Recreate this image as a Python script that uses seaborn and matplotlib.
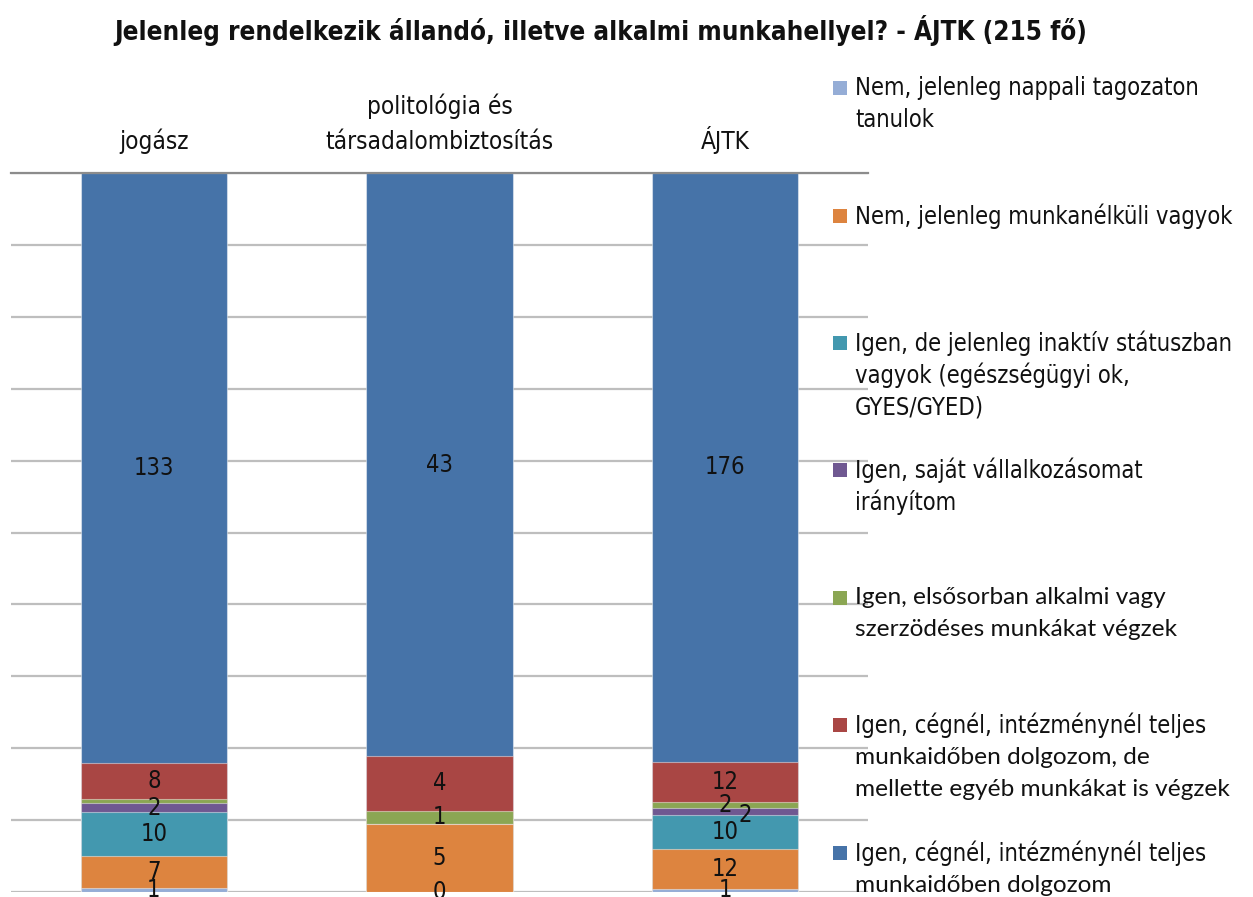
import matplotlib
matplotlib.use("Agg")
import matplotlib.pyplot as plt
import seaborn as sns
import numpy as np
import pandas as pd
from matplotlib.patches import Rectangle

# ---- data -------------------------------------------------------------
categories = ["jogász", "politológia és\ntársadalombiztosítás", "ÁJTK"]

series_names = [
    "Nem, jelenleg nappali tagozaton\ntanulok",
    "Nem, jelenleg munkanélküli vagyok",
    "Igen, de jelenleg inaktív státuszban\nvagyok (egészségügyi ok,\nGYES/GYED)",
    "Igen, saját vállalkozásomat\nirányítom",
    "Igen, elsősorban alkalmi vagy\nszerzödéses munkákat végzek",
    "Igen, cégnél, intézménynél teljes\nmunkaidőben dolgozom, de\nmellette egyéb munkákat is végzek",
    "Igen, cégnél, intézménynél teljes\nmunkaidőben dolgozom",
]

nappali = [1, 0, 1]
munkanelkuli = [7, 5, 12]
inaktiv = [10, 0, 10]
vallalkozas = [2, 0, 2]
alkalmi = [1, 1, 2]
teljes_plusz = [8, 4, 12]
teljes = [133, 43, 176]

colors = ["#95ADD6", "#DD843F", "#4398AF", "#6F5891", "#8BA653", "#A94644", "#4673A8"]

# labels that are not visible in the original (series index, category index)
hidden_labels = {(2, 1), (3, 1), (4, 0)}

# ---- figure -----------------------------------------------------------
W, H = 1253, 897
fig = plt.figure(figsize=(W / 100, H / 100), dpi=100)
sns.set_style("white")
plt.rcParams["font.family"] = ["DejaVu Sans"]
plt.rcParams["font.stretch"] = "condensed"
NARROW = ["DejaVu Sans"]

def fx(px):
    return px / W

def fy(py):
    return 1 - py / H

ax = fig.add_axes([fx(11), fy(892), fx(868) - fx(11), fy(173) - fy(892)])

series = [nappali, munkanelkuli, inaktiv, vallalkozas, alkalmi, teljes_plusz, teljes]
vals = np.array(series, dtype=float)
totals = vals.sum(axis=0)
pct = vals / totals * 100
cum = np.cumsum(pct, axis=0)

# draw cumulative layers from the top down so that the stack is visible
for i in range(len(series) - 1, -1, -1):
    df = pd.DataFrame({"cat": categories, "cum": cum[i]})
    sns.barplot(data=df, x="cat", y="cum", order=categories, color=colors[i],
                saturation=1, width=0.512, edgecolor=(1, 1, 1, 0.45),
                linewidth=0.8, ax=ax, zorder=2)

ax.set_xlim(-0.5, 2.5)
ax.set_ylim(0, 100)
ax.set_yticks(np.arange(0, 101, 10))
ax.set_yticklabels([])
ax.yaxis.grid(True, color="#BEBEBE", linewidth=1.6)
ax.set_axisbelow(True)
ax.tick_params(axis="both", length=0)
ax.set_xlabel("")
ax.set_ylabel("")
ax.xaxis.tick_top()
ax.set_xticklabels(categories, fontsize=17.5, color="#111111", linespacing=1.55,
                   fontstretch="condensed")
ax.tick_params(axis="x", pad=14)
for s in ["left", "right", "bottom"]:
    ax.spines[s].set_visible(False)
ax.spines["top"].set_color("#8C8C8C")
ax.spines["top"].set_linewidth(1.6)

# data labels
for i in range(len(series)):
    for j in range(len(categories)):
        if (i, j) in hidden_labels:
            continue
        y = cum[i][j] - pct[i][j] / 2
        x = j
        if i == 3 and j == 2:
            x = j + 0.07
            y -= 0.4
        ax.text(x, y, f"{int(series[i][j])}", ha="center", va="center",
                fontsize=17, color="#111111", clip_on=False, zorder=5,
                fontstretch="condensed")

# title
fig.text(fx(601), fy(31), "Jelenleg rendelkezik állandó, illetve alkalmi munkahellyel? - ÁJTK (215 fő)",
         ha="center", va="center", fontsize=18.6, fontweight="bold", color="#111111",
         fontstretch="condensed")

# legend (markers aligned with first line, as in the original)
entry_y = [88, 216, 343, 470, 598, 725, 853]
calibri_lines = {4: [0, 1], 5: [1, 2], 6: [1]}
line_gap = 32
for i, name in enumerate(series_names):
    cy = entry_y[i]
    fig.add_artist(Rectangle((fx(833), fy(cy + 7)), fx(14), 14 / H,
                             transform=fig.transFigure, facecolor=colors[i],
                             edgecolor="none"))
    for k, line in enumerate(name.split("\n")):
        if k in calibri_lines.get(i, []):
            fig.text(fx(855), fy(cy + k * line_gap), line, ha="left", va="center",
                     fontsize=17.6, color="#111111", family=["Lato", "DejaVu Sans"],
                     fontstretch="normal")
        else:
            fig.text(fx(855), fy(cy + k * line_gap), line, ha="left", va="center",
                     fontsize=17, color="#111111", family=NARROW,
                     fontstretch="condensed")

fig.savefig("out.png", dpi=100)
